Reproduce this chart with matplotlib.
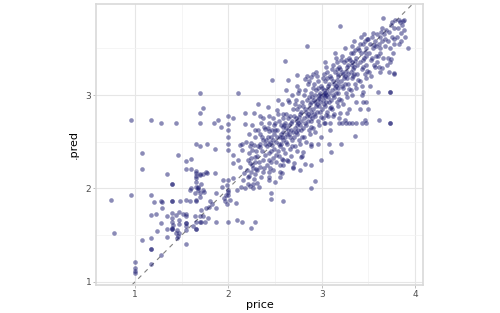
import matplotlib
matplotlib.use("Agg")
import matplotlib.pyplot as plt
import numpy as np

# (price, .pred) pairs, grouped by region
low_end = [
    (0.74,1.88),(0.77,1.52),(0.95,2.73),(0.95,1.93),(1.0,1.21),(1.0,1.15),(1.0,1.12),(1.0,1.09),
    (1.07,2.375),(1.07,2.21),(1.07,1.45),(1.17,2.73),(1.17,1.93),(1.17,1.71),(1.17,1.47),(1.17,1.35),
    (1.17,1.35),(1.17,1.19),(1.20,1.85),(1.22,1.73),(1.23,1.54),(1.28,2.70),(1.28,1.86),(1.29,1.85),
    (1.29,1.79),(1.28,1.63),(1.28,1.29),(1.34,2.15),(1.34,1.70),(1.34,1.57),(1.34,1.48),(1.39,2.05),
    (1.39,2.05),(1.39,1.86),(1.39,1.86),(1.39,1.74),(1.39,1.68),(1.39,1.64),(1.39,1.56),(1.39,1.56),
    (1.39,1.58),(1.41,1.61),(1.44,2.70),(1.44,1.71),(1.45,1.55),(1.44,1.52),(1.46,1.49),(1.45,1.47),
    (1.47,1.52),(1.46,2.36),(1.47,1.75),(1.47,1.66),(1.47,1.62),(1.48,1.86),(1.51,1.73),(1.54,1.875),
    (1.54,1.70),(1.54,1.63),(1.54,1.63),(1.54,1.60),(1.54,1.55),(1.54,1.40),(1.54,2.29),(1.54,2.21),
    (1.55,1.73),(1.59,1.86),(1.59,1.98),(1.60,2.32),(1.60,2.21),(1.60,2.0),(1.62,1.60),(1.64,1.95),
    (1.64,1.70),(1.65,2.48),(1.65,2.19),(1.65,2.16),(1.65,2.13),(1.65,2.11),(1.65,2.07),(1.65,2.02),
    (1.65,1.875),(1.65,1.86),(1.65,1.64),(1.65,1.57),(1.65,1.57),(1.67,2.02),(1.67,2.00),(1.67,1.98),
    (1.69,3.02),(1.69,2.81),(1.69,2.70),(1.69,2.15),(1.69,1.95),(1.69,1.91),(1.69,1.70),(1.69,1.64),
    (1.70,2.45),(1.70,2.14),(1.71,2.05),(1.71,1.77),(1.71,1.64),(1.73,2.86),(1.73,2.15),(1.73,1.98),
    (1.73,1.70),(1.74,1.96),(1.75,1.64),(1.76,1.79),(1.76,2.18),(1.77,2.48),(1.77,2.16),(1.78,1.68),
    (1.79,1.80),(1.80,1.86),(1.82,1.83),(1.84,2.70),(1.86,2.42),(1.86,2.17),(1.87,1.64),(1.87,1.79),
    (1.87,1.95),(1.89,2.73),(1.92,2.66),(1.93,2.01),(1.94,2.09),(1.95,1.90),(1.96,1.87),(1.97,1.93),
    (1.98,2.04),(1.98,1.83),
]
mid_band = [
    (2.0,2.77),(2.0,2.69),(2.0,2.63),(2.0,2.55),(2.0,2.48),(2.0,2.41),(2.0,2.09),(2.0,1.98),
    (2.0,1.96),(2.0,1.93),(2.0,1.64),(2.02,1.88),(2.05,2.75),(2.05,2.36),(2.05,2.27),(2.05,2.11),
    (2.08,1.84),(2.09,1.98),(2.09,1.66),(2.10,3.02),(2.10,2.30),(2.12,2.46),(2.12,2.23),(2.14,2.01),
    (2.15,2.48),(2.15,2.41),(2.15,1.64),(2.16,2.09),(2.17,2.17),(2.18,2.81),(2.18,2.69),(2.18,2.0),
    (2.19,2.50),(2.20,2.20),(2.21,2.05),(2.22,2.13),(2.23,2.45),(2.24,2.18),(2.24,1.58),(2.25,2.68),
    (2.25,2.25),(2.26,2.05),(2.27,2.81),(2.28,2.55),(2.29,1.64),(2.30,2.21),(2.31,2.06),(2.32,2.90),
    (2.34,2.77),(2.34,2.48),(2.34,2.23),(2.37,2.52),(2.37,2.18),(2.39,2.64),(2.42,2.87),(2.43,2.18),
    (2.44,2.61),(2.44,2.38),(2.44,2.09),(2.47,3.16),(2.46,1.95),(2.46,1.89),(2.48,2.52),(2.48,2.20),
    (2.50,2.70),(2.50,2.07),(2.51,2.36),(2.52,2.84),(2.55,2.55),(2.55,2.18),(2.59,1.86),(2.59,2.80),
    (2.61,3.36),(2.64,3.16),(2.73,3.21),(2.82,3.17),(2.89,3.19),(2.91,3.23),(2.84,3.53),
    (2.70,2.27),(2.64,2.29),(2.59,2.25),(2.57,2.16),(2.78,2.34),(2.80,2.39),(2.82,2.26),(2.77,2.20),
    (2.69,2.23),(2.89,2.00),(2.93,2.08),(2.99,2.30),(3.10,2.39),(3.21,2.48),(3.08,2.48),(2.96,2.48),
    (2.89,2.48),(3.36,2.56),
    (2.21,2.30),(2.22,2.38),(2.23,2.27),(2.24,2.33),(2.25,2.41),(2.26,2.22),(2.27,2.47),(2.28,2.34),
    (2.29,2.15),(2.21,2.12),(2.26,2.00),(2.28,2.62),(2.22,2.58),(2.29,2.28),(2.24,2.49),(2.27,2.10),
    (2.23,2.03),(2.30,2.40),(2.31,2.35),(2.32,2.45),(2.33,2.28),(2.34,2.58),(2.35,2.12),(2.36,2.40),
    (2.37,2.30),(2.38,2.66),(2.39,2.48),(2.31,2.20),(2.33,2.02),(2.36,2.55),(2.38,2.22),(2.35,2.70),
    (2.32,2.62),(2.39,2.36),(2.34,2.44),(2.37,2.75),
]
core = [
    (2.41,2.45),(2.42,2.55),(2.43,2.30),(2.44,2.70),(2.45,2.50),(2.46,2.40),(2.47,2.62),(2.48,2.33),
    (2.49,2.58),(2.41,2.25),(2.43,2.78),(2.45,2.22),(2.47,2.46),(2.49,2.68),(2.42,2.65),(2.44,2.48),
    (2.46,2.55),(2.48,2.75),(2.40,2.52),(2.46,2.28),(2.43,2.12),(2.49,2.42),
    (2.51,2.50),(2.52,2.62),(2.53,2.40),(2.54,2.72),(2.55,2.45),(2.56,2.58),(2.57,2.32),(2.58,2.66),
    (2.59,2.52),(2.51,2.28),(2.53,2.80),(2.55,2.25),(2.56,2.48),(2.57,2.90),(2.58,2.42),(2.59,2.75),
    (2.52,2.55),(2.54,2.35),(2.56,2.68),(2.58,2.60),(2.50,2.62),(2.53,2.95),(2.55,2.12),(2.59,2.30),
    (2.57,2.55),(2.54,2.48),
    (2.61,2.55),(2.62,2.65),(2.63,2.48),(2.64,2.75),(2.65,2.58),(2.66,2.42),(2.67,2.70),(2.68,2.52),
    (2.69,2.85),(2.61,2.38),(2.62,2.80),(2.63,2.30),(2.64,2.62),(2.65,2.92),(2.66,2.55),(2.67,2.35),
    (2.68,2.72),(2.69,2.60),(2.60,2.68),(2.62,2.50),(2.64,2.95),(2.66,2.78),(2.68,2.45),(2.61,2.70),
    (2.63,2.58),(2.65,2.68),(2.67,2.62),(2.69,2.22),(2.62,3.05),(2.68,3.00),
    (2.71,2.65),(2.72,2.75),(2.73,2.58),(2.74,2.85),(2.75,2.70),(2.76,2.52),(2.77,2.80),(2.78,2.62),
    (2.79,2.92),(2.71,2.45),(2.72,2.95),(2.73,2.40),(2.74,2.68),(2.75,3.02),(2.76,2.76),(2.77,2.48),
    (2.78,2.72),(2.79,2.55),(2.70,2.78),(2.72,2.60),(2.74,3.10),(2.76,2.88),(2.78,2.82),(2.71,2.90),
    (2.73,2.72),(2.75,2.62),(2.77,2.68),(2.79,2.35),(2.70,2.55),(2.76,3.05),
    (2.81,2.75),(2.82,2.85),(2.83,2.68),(2.84,2.95),(2.85,2.80),(2.86,2.62),(2.87,2.90),(2.88,2.72),
    (2.89,3.02),(2.81,2.55),(2.82,3.05),(2.83,2.50),(2.84,2.78),(2.85,3.12),(2.86,2.86),(2.87,2.58),
    (2.88,2.82),(2.89,2.66),(2.80,2.88),(2.82,2.70),(2.84,3.20),(2.86,2.98),(2.88,2.92),(2.81,3.00),
    (2.83,2.82),(2.85,2.72),(2.87,2.78),(2.89,2.45),(2.80,2.65),(2.86,3.15),(2.88,2.25),
    (2.91,2.85),(2.92,2.95),(2.93,2.78),(2.94,3.05),(2.95,2.90),(2.96,2.72),(2.97,3.00),(2.98,2.82),
    (2.99,3.10),(2.91,2.65),(2.92,3.12),(2.93,2.60),(2.94,2.88),(2.95,3.20),(2.96,2.96),(2.97,2.68),
    (2.98,2.92),(2.99,2.76),(2.90,2.98),(2.92,2.80),(2.94,3.25),(2.96,3.08),(2.98,3.02),(2.91,3.08),
    (2.93,2.92),(2.95,2.82),(2.97,2.88),(2.99,2.55),(2.90,2.75),(2.96,3.15),(2.93,3.00),(2.97,2.97),
    (2.99,2.99),
    (3.01,2.95),(3.02,3.05),(3.03,2.88),(3.04,3.15),(3.05,3.00),(3.06,2.82),(3.07,3.10),(3.08,2.92),
    (3.09,3.20),(3.01,2.75),(3.02,3.22),(3.03,2.70),(3.04,2.98),(3.05,3.30),(3.06,3.06),(3.07,2.78),
    (3.08,3.02),(3.09,2.86),(3.00,3.08),(3.02,2.90),(3.04,3.35),(3.06,3.18),(3.08,3.12),(3.01,3.18),
    (3.03,3.02),(3.05,2.92),(3.07,2.98),(3.09,2.62),(3.00,2.85),(3.06,3.25),(3.02,3.00),(3.04,3.02),
    (3.11,3.05),(3.12,3.15),(3.13,2.98),(3.14,3.25),(3.15,3.10),(3.16,2.92),(3.17,3.20),(3.18,3.02),
    (3.19,3.30),(3.11,2.85),(3.12,3.32),(3.13,2.80),(3.14,3.08),(3.15,3.40),(3.16,3.16),(3.17,2.88),
    (3.18,3.12),(3.19,2.96),(3.10,3.18),(3.12,3.00),(3.14,3.45),(3.16,3.28),(3.18,3.22),(3.11,3.28),
    (3.13,3.12),(3.15,3.02),(3.17,3.08),(3.19,2.75),(3.10,2.95),(3.16,3.35),
]
upper = [
    (3.21,3.15),(3.22,3.25),(3.23,3.08),(3.24,3.35),(3.25,3.20),(3.26,3.02),(3.27,3.30),(3.28,3.12),
    (3.29,3.40),(3.21,2.95),(3.22,3.42),(3.23,2.90),(3.24,3.18),(3.25,3.50),(3.26,3.26),(3.27,2.98),
    (3.28,3.22),(3.29,3.06),(3.20,3.28),(3.22,3.10),(3.26,3.38),(3.28,3.32),(3.21,3.38),(3.23,3.22),
    (3.25,3.12),(3.27,3.18),(3.29,2.85),
    (3.31,3.25),(3.32,3.35),(3.33,3.18),(3.34,3.45),(3.35,3.30),(3.36,3.12),(3.37,3.40),(3.38,3.22),
    (3.39,3.50),(3.31,3.05),(3.32,3.52),(3.33,3.00),(3.34,3.28),(3.35,3.58),(3.36,3.36),(3.37,3.08),
    (3.38,3.32),(3.39,3.16),(3.30,3.38),(3.34,3.20),(3.36,3.48),(3.31,3.45),(3.33,3.32),(3.35,3.22),
    (3.37,2.92),
    (3.41,3.35),(3.42,3.45),(3.43,3.28),(3.44,3.55),(3.45,3.40),(3.46,3.22),(3.47,3.50),(3.48,3.32),
    (3.49,3.60),(3.41,3.15),(3.42,3.62),(3.43,3.10),(3.44,3.38),(3.45,3.65),(3.46,3.46),(3.47,3.18),
    (3.48,3.42),(3.49,3.26),(3.40,3.48),(3.44,3.30),(3.46,3.58),(3.41,3.55),(3.43,3.00),(3.47,2.92),
    (3.51,3.45),(3.52,3.55),(3.53,3.38),(3.54,3.62),(3.55,3.50),(3.56,3.32),(3.57,3.58),(3.58,3.42),
    (3.59,3.65),(3.51,3.25),(3.53,3.20),(3.55,3.66),(3.56,3.54),(3.58,3.52),(3.50,3.60),(3.54,3.40),
    (3.57,3.30),(3.52,3.10),(3.59,3.35),
    (3.61,3.55),(3.62,3.62),(3.63,3.45),(3.64,3.68),(3.65,3.58),(3.66,3.40),(3.67,3.65),(3.68,3.52),
    (3.69,3.70),(3.61,3.30),(3.63,3.25),(3.65,3.72),(3.62,3.50),(3.68,3.60),(3.66,3.83),(3.60,3.42),
    (3.71,3.58),(3.72,3.68),(3.73,3.50),(3.74,3.75),(3.75,3.62),(3.76,3.45),(3.77,3.72),(3.78,3.55),
    (3.79,3.80),(3.71,3.40),(3.73,3.35),(3.75,3.78),(3.72,3.25),(3.77,3.60),(3.78,3.22),
    (3.81,3.62),(3.82,3.72),(3.83,3.55),(3.84,3.78),(3.85,3.66),(3.86,3.75),(3.87,3.79),(3.88,3.70),
    (3.88,3.80),(3.83,3.80),(3.89,3.62),(3.93,3.50),(3.85,3.58),
    (3.20,3.74),(3.70,3.32),(3.78,3.24),(3.74,3.39),(3.65,3.29),
]
flat_rows = [
    (3.73,3.03),(3.73,3.03),(3.60,3.03),(3.44,3.03),
    (3.02,2.70),(3.09,2.70),(3.19,2.70),(3.22,2.70),(3.26,2.70),(3.29,2.70),(3.33,2.70),(3.37,2.70),
    (3.43,2.70),(3.48,2.70),(3.73,2.70),(3.73,2.70),(3.61,2.73),(3.25,2.73),(3.46,2.73),
    (3.50,2.85),(3.41,2.85),(3.44,2.92),(3.20,2.81),(3.27,2.81),(3.10,2.87),(3.05,2.79),(3.12,2.77),
]

groups = [low_end, mid_band, core, upper, flat_rows]
price = np.array([p for g in groups for p, _ in g])
pred = np.array([q for g in groups for _, q in g])

W, H = 500, 313
fig = plt.figure(figsize=(W / 100, H / 100), dpi=100)
ax = fig.add_axes([96 / W, 1 - 285 / H, (423 - 96) / W, (285 - 4) / H])

xlim = (0.58, 4.086)
ylim = (0.965, 3.975)
ax.set_xlim(*xlim)
ax.set_ylim(*ylim)

# grids
ax.set_xticks([1, 2, 3, 4])
ax.set_yticks([1, 2, 3])
ax.set_xticks([1.5, 2.5, 3.5], minor=True)
ax.set_yticks([1.5, 2.5, 3.5], minor=True)
ax.grid(True, which="major", color="#E6E6E6", linewidth=0.8)
ax.grid(True, which="minor", color="#F2F2F2", linewidth=0.5)
ax.set_axisbelow(True)
ax.tick_params(which="minor", length=0)
ax.tick_params(which="major", length=2.2, width=0.6, color="#B3B3B3",
               labelsize=6.5, labelcolor="#4D4D4D", pad=1.2)

for s in ax.spines.values():
    s.set_color("#D9D9D9")
    s.set_linewidth(1.2)

# identity line
ax.axline((1, 1), slope=1, color="#808080", linestyle=(0, (4, 4)), linewidth=0.8, zorder=1)

ax.scatter(price, pred, s=11, color="#191970", alpha=0.5, linewidths=0, zorder=2)

ax.set_xlabel("price", fontsize=8, labelpad=1)
ax.set_ylabel(".pred", fontsize=8, labelpad=5)

fig.savefig("out.png", dpi=100)
